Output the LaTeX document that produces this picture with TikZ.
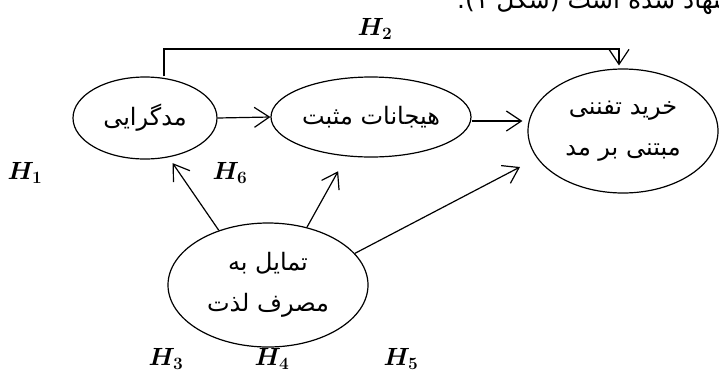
\documentclass[tikz,border=0pt]{standalone}
\usepackage{fontspec}
\usepackage{amsmath}
\TeXXeTstate=1
\newfontfamily\arabicfont[Script=Arabic]{DejaVu Sans}
\usetikzlibrary{shapes.geometric,arrows.meta,calc}
\tikzset{
  oval/.style={ellipse, draw, line width=1.2pt, inner sep=0pt, align=center,
    font=\arabicfont\fontsize{24}{41}\selectfont},
  arr/.style={line width=1.2pt, -{Straight Barb[length=15pt,width=20pt,line width=1.2pt]}},
  hlab/.style={font=\fontsize{25}{25}\selectfont\boldmath, inner sep=0pt},
  ptext/.style={font=\arabicfont\fontsize{25}{25}\selectfont, inner sep=0pt}
}
\begin{document}
\begin{tikzpicture}[x=1pt,y=-1pt]
\useasboundingbox (0,0) rectangle (719,373);
% partial line of running text at the top (cut by the picture edge)
\node[ptext, anchor=base west] (top) at (457,8) {\beginR پیشنهاد شده است (شکل ۱).\endR};
% ellipses
\node[oval, minimum width=144pt, minimum height=82pt] (mod) at (145,118) {\beginR مدگرایی\endR};
\node[oval, minimum width=200pt, minimum height=80pt] (hij) at (371,117) {\beginR هیجانات مثبت\endR};
\node[oval, minimum width=190pt, minimum height=124pt] (kh) at (623,131) {\beginR خرید تفننی\endR\\\beginR مبتنی بر مد\endR};
\node[oval, minimum width=200pt, minimum height=124pt] (tam) at (268,285) {\beginR تمایل به\endR\\\beginR مصرف لذت\endR};
% H2 connector
\coordinate (tl) at (164,49);
\coordinate (tr) at (619,49);
\draw[arr] (mod.north -| tl) -- (tl) -- (tr) -- ($(kh.north -| tr)+(0,-3)$);
% other connectors
\draw[arr] (mod.east) -- (hij.west);
\draw[arr] ($(hij.east)+(0,4)$) -- ($(kh.west |- hij.east)+(-5,4)$);
\draw[arr, shorten >=7pt] (tam.132) -- (mod.301);
\draw[arr, shorten >=17pt] (tam.56) -- (hij.238);
\coordinate (e5) at (520,167);
\draw[arr] (tam.20) -- (e5);
% labels
\node[hlab] (h1) at (25,173) {$H_1$};
\node[hlab] (h2) at (375,29) {$H_2$};
\node[hlab] (h3) at (166,359) {$H_3$};
\node[hlab] (h4) at (272,359) {$H_4$};
\node[hlab] (h5) at (401,359) {$H_5$};
\node[hlab] (h6) at (230,173) {$H_6$};
\end{tikzpicture}
\end{document}
